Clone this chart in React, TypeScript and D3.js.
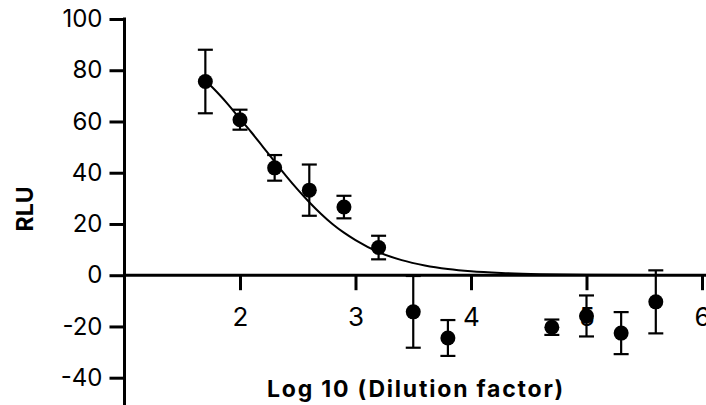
import React from 'react';
import * as d3 from 'd3';

// log10 dilution factor, mean RLU and error (SD)
const dilution = [1.7, 2.0, 2.3, 2.6, 2.9, 3.2, 3.5, 3.8, 4.7, 5.0, 5.3, 5.6];
const rlu = [75.6, 60.7, 41.9, 33.2, 26.6, 10.8, -14.3, -24.5, -20.3, -15.9, -22.6, -10.4];
const rluErr = [12.4, 3.9, 5.0, 10.0, 4.4, 4.6, 14.0, 7.0, 3.0, 8.0, 8.2, 12.3];

// fitted curve
const fitX = [1.7, 1.8, 1.9, 2.0, 2.1, 2.2, 2.3, 2.4, 2.5, 2.6, 2.7, 2.8, 2.9, 3.0, 3.2, 3.4, 3.6, 3.8, 4.0, 4.3, 4.6, 5.0, 5.6];
const fitY = [76, 71.5, 66.5, 61, 55.7, 50, 44.3, 38.7, 33.4, 28.5, 24, 20, 16.6, 13.7, 9, 5.9, 3.8, 2.4, 1.5, 0.8, 0.4, 0.15, 0.05];

const xTicks = [2, 3, 4, 5, 6];
const yTicks = [-40, -20, 0, 20, 40, 60, 80, 100];

const W = 706;
const H = 405;
const FONT = 'Inter, "Noto Sans", sans-serif';

const App: React.FC = () => {
  const svgRef = React.useRef<SVGSVGElement>(null);

  React.useEffect(() => {
    if (!svgRef.current) return;
    const svg = d3.select(svgRef.current);
    svg.selectAll('*').remove();

    const x = d3.scaleLinear().domain([1, 6]).range([124.5, 702]);
    const y = d3.scaleLinear().domain([-40, 100]).range([377.7, 19]);

    // y axis
    const yAxis = svg.append('g')
      .attr('transform', `translate(${x(1)},0)`)
      .call(d3.axisLeft(y).tickValues(yTicks).tickSize(15).tickPadding(7).tickFormat(d => String(d)));
    yAxis.select('.domain').remove();
    yAxis.selectAll('line').attr('stroke', '#000').attr('stroke-width', 3);
    yAxis.selectAll('text')
      .attr('font-family', FONT).attr('font-size', 24).attr('fill', '#000');
    svg.append('line')
      .attr('x1', x(1)).attr('x2', x(1))
      .attr('y1', y(100) - 1.5).attr('y2', H)
      .attr('stroke', '#000').attr('stroke-width', 3);

    // x axis at y = 0
    const xAxis = svg.append('g')
      .attr('transform', `translate(0,${y(0)})`)
      .call(d3.axisBottom(x).tickValues(xTicks).tickSize(15).tickPadding(17).tickFormat(d => String(d)));
    xAxis.select('.domain').remove();
    xAxis.selectAll('line').attr('stroke', '#000').attr('stroke-width', 3);
    xAxis.selectAll('text')
      .attr('font-family', FONT).attr('font-size', 26).attr('fill', '#000');
    svg.append('line')
      .attr('x1', x(1)).attr('x2', W)
      .attr('y1', y(0)).attr('y2', y(0))
      .attr('stroke', '#000').attr('stroke-width', 3);

    // fitted curve
    const line = d3.line<number>()
      .x((_, i) => x(fitX[i]))
      .y(d => y(d))
      .curve(d3.curveMonotoneX);
    svg.append('path')
      .datum(fitY)
      .attr('d', line)
      .attr('fill', 'none')
      .attr('stroke', '#000')
      .attr('stroke-width', 2);

    // error bars
    const bars = svg.append('g').attr('stroke', '#000').attr('stroke-width', 2.2);
    dilution.forEach((d, i) => {
      const cx = x(d);
      const top = y(rlu[i] + rluErr[i]);
      const bot = y(rlu[i] - rluErr[i]);
      bars.append('line').attr('x1', cx).attr('x2', cx).attr('y1', top).attr('y2', bot);
      bars.append('line').attr('x1', cx - 7.5).attr('x2', cx + 7.5).attr('y1', top).attr('y2', top);
      bars.append('line').attr('x1', cx - 7.5).attr('x2', cx + 7.5).attr('y1', bot).attr('y2', bot);
    });

    // points
    svg.append('g')
      .selectAll('circle')
      .data(dilution)
      .enter().append('circle')
      .attr('cx', d => x(d))
      .attr('cy', (_, i) => y(rlu[i]))
      .attr('r', 7.5)
      .attr('fill', '#000');

    // axis titles
    svg.append('text')
      .attr('transform', `translate(33,209) rotate(-90)`)
      .attr('text-anchor', 'middle')
      .attr('font-family', FONT)
      .attr('font-size', 23)
      .attr('font-weight', 'bold')
      .attr('fill', '#000')
      .text('RLU');

    svg.append('text')
      .attr('x', 416)
      .attr('y', 397)
      .attr('text-anchor', 'middle')
      .attr('font-family', FONT)
      .attr('font-size', 23)
      .attr('font-weight', 'bold')
      .attr('letter-spacing', 1.8)
      .attr('fill', '#000')
      .text('Log 10 (Dilution factor)');
  }, []);

  return (
    <svg
      ref={svgRef}
      width={W}
      height={H}
      style={{ position: 'absolute', left: 0, top: 0, background: '#fff' }}
    />
  );
};

export default App;
